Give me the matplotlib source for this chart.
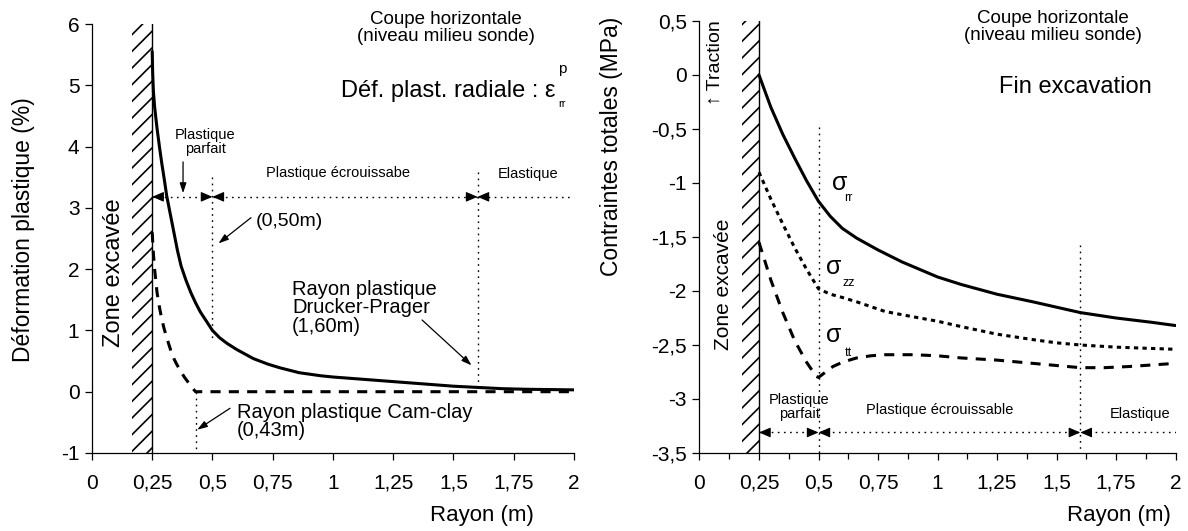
import matplotlib
matplotlib.use("Agg")
import matplotlib.pyplot as plt
from matplotlib.ticker import MultipleLocator

plt.rcParams['font.family'] = ['Liberation Sans', 'DejaVu Sans']
plt.rcParams['axes.unicode_minus'] = False
plt.rcParams['hatch.linewidth'] = 1.2

# ---------------- data ----------------
x_ticks = [0, 0.25, 0.5, 0.75, 1, 1.25, 1.5, 1.75, 2]
x_ticklabels = ['0', '0,25', '0,5', '0,75', '1', '1,25', '1,5', '1,75', '2']
left_yticks = [-1, 0, 1, 2, 3, 4, 5, 6]
left_yticklabels = ['-1', '0', '1', '2', '3', '4', '5', '6']
right_yticks = [-3.5, -3, -2.5, -2, -1.5, -1, -0.5, 0, 0.5]
right_yticklabels = ['-3,5', '-3', '-2,5', '-2', '-1,5', '-1', '-0,5', '0', '0,5']

# zone radii (m)
r_wall = 0.25          # excavation wall
r_pp = 0.50            # end of perfectly plastic zone
r_dp = 1.60            # plastic radius Drucker-Prager
r_cc = 0.43            # plastic radius Cam-clay
r_max = 2.0

# Left: radial plastic strain (%)
r_eps_dp = [0.25, 0.252, 0.255, 0.26, 0.27, 0.28, 0.29, 0.30, 0.31, 0.325, 0.34,
            0.355, 0.37, 0.39, 0.41, 0.43, 0.45, 0.475, 0.50, 0.53, 0.56, 0.60,
            0.67, 0.73, 0.78, 0.86, 0.95, 1.0, 1.1, 1.2, 1.3, 1.4, 1.5, 1.6,
            1.7, 1.8, 1.9, 2.0]
eps_dp = [5.55, 5.2, 4.9, 4.65, 4.3, 4.0, 3.72, 3.47, 3.2, 2.9, 2.6,
          2.3, 2.05, 1.82, 1.62, 1.45, 1.3, 1.15, 1.0, 0.88, 0.79, 0.69,
          0.54, 0.45, 0.39, 0.31, 0.26, 0.24, 0.21, 0.18, 0.15, 0.12, 0.09, 0.07,
          0.05, 0.04, 0.035, 0.03]
r_eps_cc = [0.25, 0.255, 0.26, 0.27, 0.28, 0.29, 0.30, 0.31, 0.32, 0.33, 0.34,
            0.35, 0.36, 0.37, 0.385, 0.40, 0.415, 0.43, 2.0]
eps_cc = [2.6, 2.25, 2.0, 1.62, 1.38, 1.18, 1.02, 0.89, 0.76, 0.64, 0.54,
          0.46, 0.39, 0.32, 0.23, 0.15, 0.07, 0.0, 0.0]

# Right: total stresses (MPa)
r_srr = [0.25, 0.30, 0.35, 0.40, 0.45, 0.50, 0.55, 0.60, 0.66, 0.75, 0.85,
         1.0, 1.1, 1.25, 1.4, 1.5, 1.6, 1.75, 1.9, 2.0]
s_rr = [0.0, -0.3, -0.55, -0.77, -0.98, -1.17, -1.31, -1.42, -1.51, -1.62, -1.73,
        -1.87, -1.94, -2.03, -2.1, -2.15, -2.2, -2.25, -2.29, -2.32]
r_szz = [0.25, 0.30, 0.35, 0.40, 0.45, 0.50, 0.55, 0.60, 0.66, 0.78, 0.9,
         1.0, 1.1, 1.25, 1.4, 1.5, 1.6, 1.75, 2.0]
s_zz = [-0.9, -1.15, -1.38, -1.6, -1.8, -1.98, -2.03, -2.06, -2.1, -2.19, -2.24,
        -2.28, -2.33, -2.4, -2.45, -2.48, -2.5, -2.52, -2.54]
r_stt = [0.25, 0.30, 0.35, 0.40, 0.45, 0.49, 0.50, 0.53, 0.56, 0.60, 0.66, 0.72,
         0.78, 0.9, 1.0, 1.1, 1.25, 1.4, 1.5, 1.6, 1.7, 1.8, 2.0]
s_tt = [-1.55, -1.9, -2.2, -2.46, -2.66, -2.79, -2.8, -2.75, -2.7, -2.66, -2.62, -2.6,
        -2.59, -2.59, -2.6, -2.62, -2.64, -2.67, -2.69, -2.71, -2.71, -2.7, -2.67]

# ---------------- figure ----------------
fig = plt.figure(figsize=(11.88, 5.31), dpi=100)
axL = fig.add_axes([0.0774, 0.1469, 0.4057, 0.8079])
axR = fig.add_axes([0.5888, 0.1469, 0.4007, 0.8136])

LW = 2.2
dots = (0, (1.2, 3.2))


def style_axes(ax, ylim, yticks, yticklabels, minor):
    ax.set_xlim(0, r_max)
    ax.set_ylim(*ylim)
    for s in ('top', 'right'):
        ax.spines[s].set_visible(False)
    ax.spines['left'].set_linewidth(0.9)
    ax.spines['bottom'].set_linewidth(0.9)
    ax.set_xticks(x_ticks)
    ax.set_xticklabels(x_ticklabels)
    ax.set_yticks(yticks)
    ax.set_yticklabels(yticklabels)
    ax.tick_params(axis='x', direction='out', length=5, width=0.9, pad=10, labelsize=15)
    ax.tick_params(axis='y', direction='out', length=5, width=0.9, pad=4, labelsize=15)
    if minor:
        ax.xaxis.set_minor_locator(MultipleLocator(0.125))
        ax.tick_params(axis='x', which='minor', direction='out', length=4, width=0.9)
    ax.set_xlabel('Rayon (m)', fontsize=16, ha='right')


def zone_arrows(ax, y):
    d = 0.045
    kw = dict(arrowstyle='-|>,head_length=0.7,head_width=0.3', color='k', lw=0.8,
              shrinkA=0, shrinkB=0)
    ax.plot([r_wall, r_max], [y, y], color='k', lw=1.0, ls=dots)
    ax.annotate('', xy=(r_wall, y), xytext=(r_wall + d, y), arrowprops=kw)
    for b in (r_pp, r_dp):
        ax.annotate('', xy=(b, y), xytext=(b - d, y), arrowprops=kw)
        ax.annotate('', xy=(b, y), xytext=(b + d, y), arrowprops=kw)


arrow_kw = dict(arrowstyle='-|>,head_length=0.6,head_width=0.2', color='k', lw=0.9,
                shrinkA=0, shrinkB=0)

# ================= LEFT PANEL =================
ax = axL
style_axes(ax, (-1, 6), left_yticks, left_yticklabels, minor=False)
ax.set_ylabel('Déformation plastique (%)', fontsize=16.5)
ax.yaxis.set_label_coords(-0.118, 0.52)
ax.xaxis.set_label_coords(0.917, -0.121)

ax.fill_betweenx([-1, 6], 0.165, r_wall, facecolor='none', edgecolor='k',
                 hatch='//', linewidth=0)
ax.plot([r_wall, r_wall], [-1, 6], color='k', lw=1.0)

ax.plot(r_eps_dp, eps_dp, color='k', lw=LW, solid_capstyle='round', solid_joinstyle='round')
ax.plot(r_eps_cc, eps_cc, color='k', lw=LW, dashes=(3.3, 2.7))

yz = 3.18
zone_arrows(ax, yz)
ax.plot([r_pp, r_pp], [3.5, 0.85], color='k', lw=1.0, ls=dots)
ax.plot([r_dp, r_dp], [3.58, 0.06], color='k', lw=1.0, ls=dots)
ax.plot([r_cc, r_cc], [0.0, -1], color='k', lw=1.0, ls=dots)

ax.text(0.47, 4.07, 'Plastique\nparfait', fontsize=10.5, ha='center', va='center',
        linespacing=1.0)
ax.annotate('', xy=(0.378, 3.24), xytext=(0.378, 3.75), arrowprops=arrow_kw)
ax.text(1.02, 3.57, 'Plastique écrouissabe', fontsize=10.5, ha='center', va='center')
ax.text(1.81, 3.55, 'Elastique', fontsize=10.5, ha='center', va='center')

ax.text(0.68, 2.77, '(0,50m)', fontsize=14, ha='left', va='center')
ax.annotate('', xy=(0.525, 2.42), xytext=(0.66, 2.84), arrowprops=arrow_kw)
ax.text(0.83, 1.37, 'Rayon plastique\nDrucker-Prager\n(1,60m)', fontsize=14.5,
        ha='left', va='center', linespacing=0.95)
ax.annotate('', xy=(1.575, 0.43), xytext=(1.37, 1.17), arrowprops=arrow_kw)
ax.text(0.6, -0.49, 'Rayon plastique Cam-clay\n(0,43m)', fontsize=14.5,
        ha='left', va='center', linespacing=0.95)
ax.annotate('', xy=(0.437, -0.62), xytext=(0.573, -0.27), arrowprops=arrow_kw)

ax.text(0.092, 1.95, 'Zone excavée', rotation=90, fontsize=17, ha='center', va='center')
ax.text(1.47, 5.94, 'Coupe horizontale\n(niveau milieu sonde)', fontsize=13.5,
        ha='center', va='center', linespacing=1.0)
ax.text(1.925, 4.9, 'Déf. plast. radiale : ε', fontsize=17, ha='right', va='center')
ax.text(1.935, 5.27, 'p', fontsize=11, ha='left', va='center')
ax.text(1.935, 4.7, 'rr', fontsize=8, ha='left', va='center')

# ================= RIGHT PANEL =================
ax = axR
style_axes(ax, (-3.5, 0.5), right_yticks, right_yticklabels, minor=True)
ax.set_ylabel('Contraintes totales (MPa)', fontsize=16.5)
ax.yaxis.set_label_coords(-0.16, 0.71)
ax.xaxis.set_label_coords(0.99, -0.121)

ax.fill_betweenx([-3.5, 0.5], 0.18, r_wall, facecolor='none', edgecolor='k',
                 hatch='//', linewidth=0)
ax.plot([r_wall, r_wall], [-3.5, 0.5], color='k', lw=1.0)

ax.plot(r_srr, s_rr, color='k', lw=LW, solid_capstyle='round', solid_joinstyle='round')
ax.plot(r_szz, s_zz, color='k', lw=LW, dashes=(1.4, 1.4))
ax.plot(r_stt, s_tt, color='k', lw=LW, dashes=(3.3, 2.7))

yz = -3.31
zone_arrows(ax, yz)
ax.plot([r_pp, r_pp], [-0.48, -3.5], color='k', lw=1.0, ls=dots)
ax.plot([r_dp, r_dp], [-1.57, -3.5], color='k', lw=1.0, ls=dots)

ax.text(0.42, -3.07, 'Plastique\nparfait', fontsize=10.5, ha='center', va='center',
        linespacing=1.0)
ax.text(1.01, -3.1, 'Plastique écrouissable', fontsize=10.5, ha='center', va='center')
ax.text(1.85, -3.14, 'Elastique', fontsize=10.5, ha='center', va='center')

ax.text(0.588, -1.0, 'σ', fontsize=18, ha='center', va='center')
ax.text(0.625, -1.14, 'rr', fontsize=9, ha='center', va='center')
ax.text(0.565, -1.78, 'σ', fontsize=18, ha='center', va='center')
ax.text(0.625, -1.93, 'zz', fontsize=9, ha='center', va='center')
ax.text(0.565, -2.41, 'σ', fontsize=18, ha='center', va='center')
ax.text(0.625, -2.57, 'tt', fontsize=9, ha='center', va='center')

ax.text(0.099, -1.94, 'Zone excavée', rotation=90, fontsize=15, ha='center', va='center')
ax.text(0.065, 0.11, '↑ Traction', rotation=90, fontsize=14, ha='center', va='center')
ax.text(1.485, 0.44, 'Coupe horizontale\n(niveau milieu sonde)', fontsize=13.5,
        ha='center', va='center', linespacing=1.0)
ax.text(1.58, -0.11, 'Fin excavation', fontsize=17, ha='center', va='center')

fig.savefig('out.png', dpi=100)
